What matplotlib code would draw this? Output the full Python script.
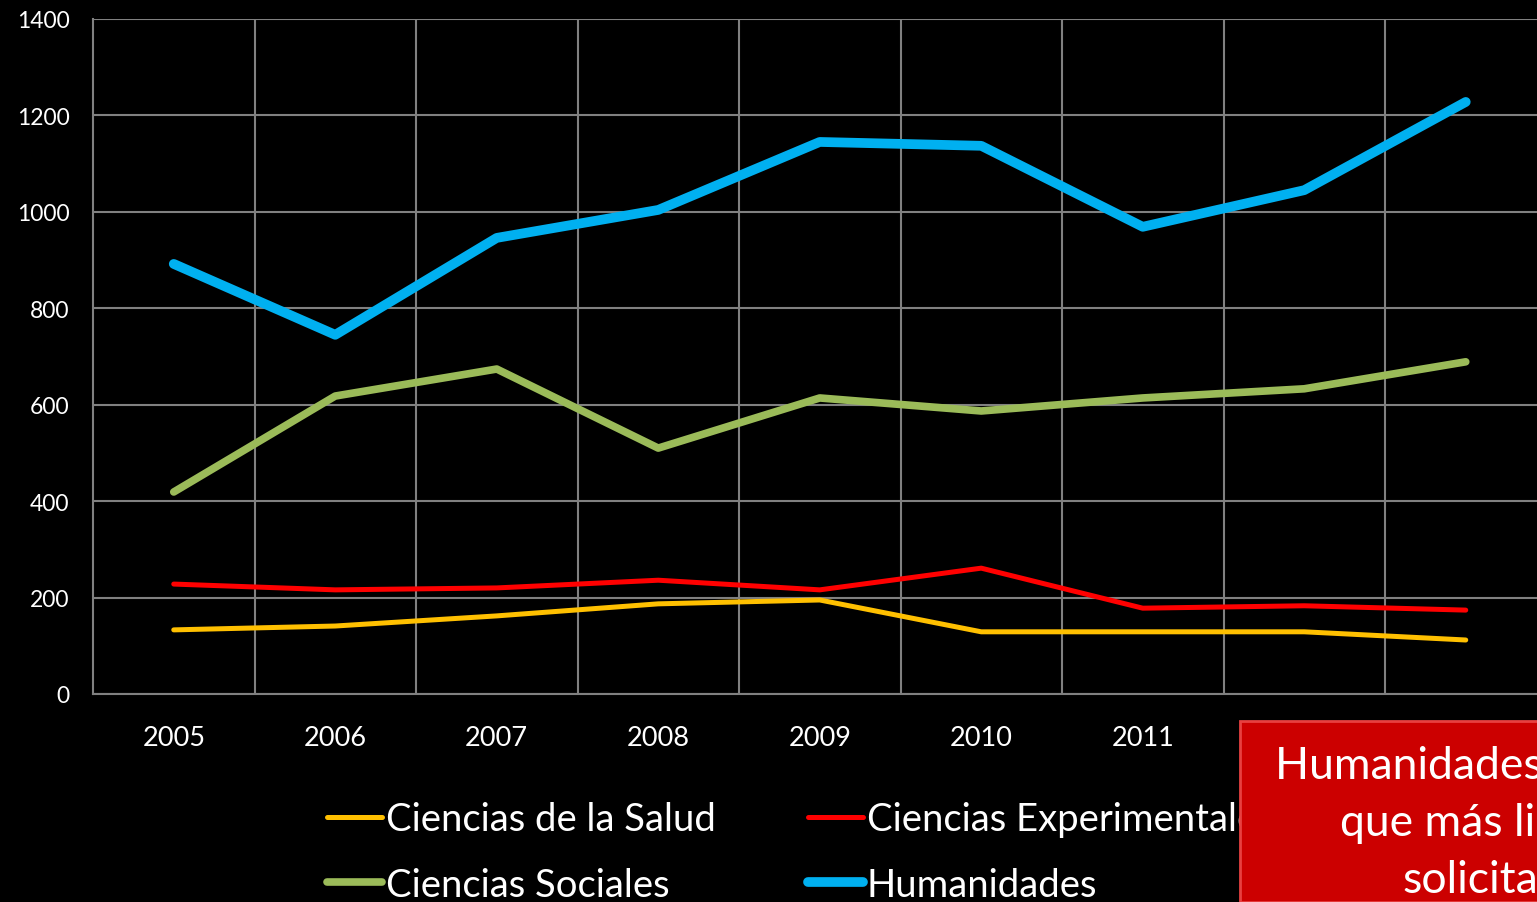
import matplotlib
matplotlib.use("Agg")
import matplotlib.pyplot as plt
from matplotlib.patches import Rectangle

years = ['2005', '2006', '2007', '2008', '2009', '2010', '2011', '2012', '2013']
salud = [133, 141, 162, 187, 195, 129, 129, 129, 112]
experimentales = [228, 216, 220, 236, 216, 261, 178, 183, 174]
sociales = [419, 618, 674, 510, 614, 587, 614, 633, 689]
humanidades = [892, 745, 946, 1004, 1145, 1137, 969, 1045, 1228]

plt.rcParams['font.family'] = ['Lato', 'DejaVu Sans']

W, H = 1537, 903
fig = plt.figure(figsize=(W / 100, H / 100), dpi=100, facecolor='black')
ax = fig.add_axes([93 / W, 208 / H, 1453.5 / W, 675 / H])
ax.set_facecolor('black')

x = list(range(len(years)))
l_salud, = ax.plot(x, salud, color='#FFC000', lw=3.6, solid_capstyle='round',
                   solid_joinstyle='round', label='Ciencias de la Salud')
l_exp, = ax.plot(x, experimentales, color='#FF0000', lw=3.6, solid_capstyle='round',
                 solid_joinstyle='round', label='Ciencias Experimentales')
l_soc, = ax.plot(x, sociales, color='#9BBB59', lw=5.5, solid_capstyle='round',
                 solid_joinstyle='round', label='Ciencias Sociales')
l_hum, = ax.plot(x, humanidades, color='#00B0F0', lw=7, solid_capstyle='round',
                 solid_joinstyle='round', label='Humanidades')

ax.set_xlim(-0.5, len(years) - 0.5)
ax.set_ylim(0, 1400)
ax.set_yticks(range(0, 1401, 200))
ax.set_xticks(x)
ax.set_xticklabels(years)
ax.set_xticks([i + 0.5 for i in x], minor=True)
ax.grid(True, axis='y', which='major', color='#808080', lw=1.5)
ax.grid(True, axis='x', which='minor', color='#808080', lw=1.5)
ax.set_axisbelow(True)
ax.tick_params(axis='both', which='both', length=0, colors='white')
ax.tick_params(axis='x', pad=22, labelsize=19.5)
ax.tick_params(axis='y', pad=17, labelsize=16.5)
for side in ['top', 'right']:
    ax.spines[side].set_visible(False)
for side in ['left', 'bottom']:
    ax.spines[side].set_color('#808080')
    ax.spines[side].set_linewidth(1.5)

leg = fig.legend(handles=[l_salud, l_soc, l_exp, l_hum], ncol=2, frameon=False,
                 loc='upper left', bbox_to_anchor=(327 / W, 1 - 802 / H),
                 fontsize=27.5, handlelength=1.45, handletextpad=0.1,
                 columnspacing=2.4, labelspacing=0.78, borderpad=0, borderaxespad=0)
leg.set_zorder(2)
for t in leg.get_texts():
    t.set_color('white')

# red callout box at bottom right
box = Rectangle((1240 / W, 0), 0.3, (903 - 722) / H, transform=fig.transFigure,
                facecolor='#CC0000', edgecolor='#E84040', lw=2, zorder=10)
fig.patches.append(box)
box_lines = ['Humanidades es', 'que más libros', 'solicita']
box_x = [1275, 1340, 1402]
box_y = [779, 836, 893]
for s, bx, by in zip(box_lines, box_x, box_y):
    fig.text(bx / W, 1 - by / H, s, color='white', fontsize=32, ha='left',
             va='baseline', zorder=11)

fig.savefig('out.png', dpi=100, facecolor='black')
